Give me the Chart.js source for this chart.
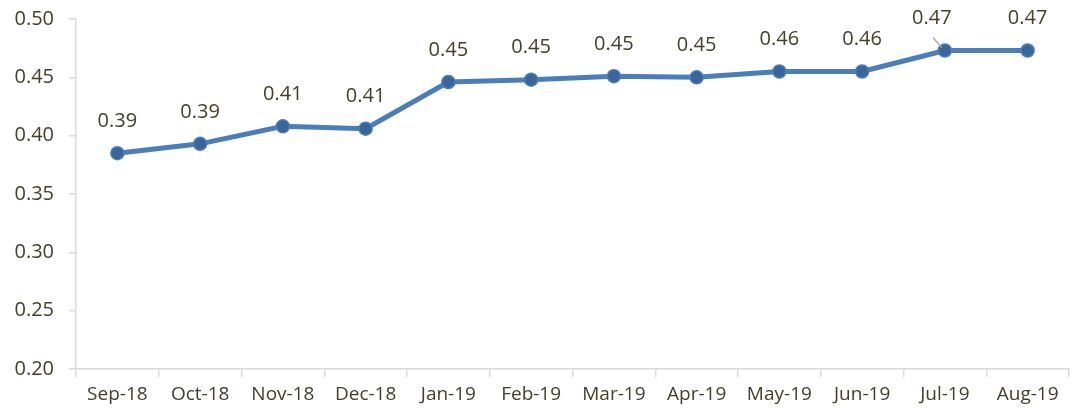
<!DOCTYPE html>
<html>
<head>
<meta charset="utf-8">
<script src="https://cdn.jsdelivr.net/npm/chart.js@4"></script>
<style>
html,body{margin:0;padding:0;background:#fff;}
#wrap{width:1077px;height:412px;}
</style>
</head>
<body>
<div id="wrap"><canvas id="c" width="1077" height="412"></canvas></div>
<script>
const categories = ["Sep-18","Oct-18","Nov-18","Dec-18","Jan-19","Feb-19","Mar-19","Apr-19","May-19","Jun-19","Jul-19","Aug-19"];
const values = [0.385,0.393,0.408,0.406,0.446,0.448,0.451,0.450,0.455,0.455,0.473,0.473];
const yTicks = [0.20,0.25,0.30,0.35,0.40,0.45,0.50];

const textColor = "#45402a";
const fontFamily = "'Open Sans', 'Liberation Sans', sans-serif";

const labelPlugin = {
  id: 'dataLabels',
  afterDatasetsDraw(chart) {
    const ctx = chart.ctx;
    const meta = chart.getDatasetMeta(0);
    ctx.save();
    ctx.font = "20px " + fontFamily;
    ctx.fillStyle = textColor;
    ctx.textAlign = "center";
    ctx.textBaseline = "middle";
    meta.data.forEach((pt, i) => {
      let x = pt.x, y = pt.y - 32;
      if (i === 10) {
        x = pt.x - 13;
        ctx.strokeStyle = "#a6a6a6";
        ctx.lineWidth = 1.2;
        ctx.beginPath();
        ctx.moveTo(pt.x - 12, pt.y - 13);
        ctx.lineTo(pt.x - 3, pt.y - 3);
        ctx.stroke();
      }
      ctx.fillText(values[i].toFixed(2), x, y);
    });
    ctx.restore();
  }
};

function zeroPad(s) { s.paddingLeft = 0; s.paddingRight = 0; s.paddingTop = 0; s.paddingBottom = 0; }

new Chart(document.getElementById('c'), {
  type: 'line',
  data: {
    labels: categories,
    datasets: [{
      data: values,
      borderColor: "#4a7ebb",
      borderWidth: 5,
      pointRadius: 6.5,
      pointBackgroundColor: "#3a6598",
      pointBorderColor: "#4a7ebb",
      pointBorderWidth: 1.5,
      tension: 0,
      clip: false
    }]
  },
  options: {
    responsive: false,
    animation: false,
    layout: { padding: { top: 19, right: 0, left: 0, bottom: 0 } },
    plugins: { legend: { display: false }, tooltip: { enabled: false } },
    scales: {
      x: {
        offset: true,
        grid: { display: true, drawOnChartArea: false, offset: true, tickLength: 8, color: "#d9d9d9", lineWidth: 1.5 },
        border: { color: "#d9d9d9", width: 1.5 },
        ticks: { color: textColor, font: { size: 19, family: fontFamily }, padding: 6, maxRotation: 0, autoSkip: false },
        afterFit(s) { s.height = 43; zeroPad(s); }
      },
      y: {
        min: 0.20, max: 0.50,
        afterBuildTicks(s) { s.ticks = yTicks.map(v => ({ value: v })); },
        grid: { display: true, drawOnChartArea: false, tickLength: 7, color: "#d9d9d9", lineWidth: 1.5 },
        border: { color: "#d9d9d9", width: 1.5 },
        ticks: { color: textColor, font: { size: 20, family: fontFamily }, padding: 15, callback: v => Number(v).toFixed(2) },
        afterFit(s) { s.width = 76; zeroPad(s); }
      }
    }
  },
  plugins: [labelPlugin]
});
</script>
</body>
</html>
